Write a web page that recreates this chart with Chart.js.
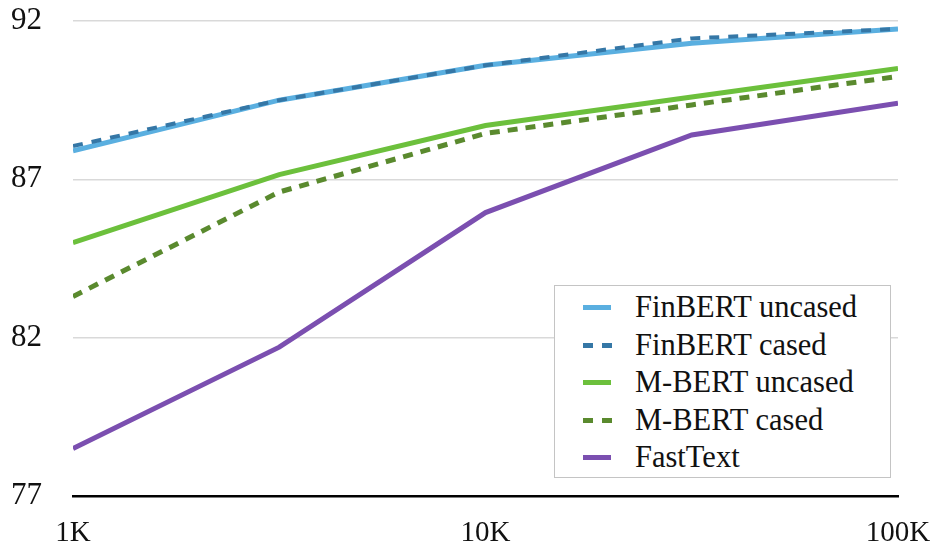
<!DOCTYPE html>
<html>
<head>
<meta charset="utf-8">
<script src="https://cdn.jsdelivr.net/npm/chart.js@4.4.1/dist/chart.umd.min.js"></script>
<style>
  html, body { margin: 0; padding: 0; background: #fff; }
  #wrap { position: relative; width: 937px; height: 544px; }
  #legend {
    position: absolute; left: 554px; top: 285px; width: 337px; height: 193px;
    border: 1.5px solid #c4c4c4; background: #fff; box-sizing: border-box;
    font-family: "Liberation Serif", "Times New Roman", serif; font-size: 30.5px; color: #111;
  }
  .row { position: absolute; left: 0; height: 37px; line-height: 37px; white-space: nowrap; }
  .row span.t { position: absolute; left: 80px; top: 0; }
  .sw { position: absolute; height: 5px; }
</style>
</head>
<body>
<div id="wrap">
  <canvas id="c" width="937" height="544"></canvas>
  <div id="legend"></div>
</div>
<script>
// ---- data ----
const trainSizes = [1000, 3162, 10000, 31623, 100000];
const xTickValues = [1000, 10000, 100000];
const xTickLabels = ['1K', '10K', '100K'];
const yTickValues = [77, 82, 87, 92];
const seriesNames = ['FinBERT uncased', 'FinBERT cased', 'M-BERT uncased', 'M-BERT cased', 'FastText'];
const finbertUncased = [87.9, 89.5, 90.6, 91.3, 91.75];
const finbertCased   = [88.05, 89.5, 90.6, 91.45, 91.75];
const mbertUncased   = [85.0, 87.15, 88.7, 89.6, 90.5];
const mbertCased     = [83.3, 86.6, 88.45, 89.35, 90.25];
const fastText       = [78.5, 81.7, 85.95, 88.4, 89.4];

const seriesValues = [finbertUncased, finbertCased, mbertUncased, mbertCased, fastText];
const colors = ['#5aafe0', '#3577a6', '#6cc03c', '#5a8a2e', '#7b4fb0'];
const dashes = [[], [10, 9], [], [10, 8], []];
const widths = [5, 4, 5, 5, 5];

const datasets = seriesNames.map((name, i) => ({
  label: name,
  data: trainSizes.map((x, j) => ({ x: x, y: seriesValues[i][j] })),
  borderColor: colors[i],
  backgroundColor: colors[i],
  borderWidth: widths[i],
  borderDash: dashes[i],
  borderCapStyle: 'butt',
  pointRadius: 0,
  pointHoverRadius: 0,
  tension: 0,
  fill: false,
  order: [1, 0, 3, 2, 4][i]
}));

const serif = '"Liberation Serif", "Times New Roman", serif';

new Chart(document.getElementById('c'), {
  type: 'line',
  data: { datasets },
  options: {
    responsive: false,
    animation: false,
    devicePixelRatio: 1,
    layout: { padding: { top: 21, right: 39, left: 0, bottom: 0 } },
    plugins: { legend: { display: false }, tooltip: { enabled: false } },
    scales: {
      x: {
        type: 'logarithmic',
        min: 1000, max: 100000,
        afterBuildTicks: s => { s.ticks = xTickValues.map(v => ({ value: v })); },
        afterFit: s => { s.height = 48; s.paddingLeft = 0; s.paddingRight = 0; },
        ticks: {
          color: '#111', font: { family: serif, size: 29 }, padding: 12, maxRotation: 0, autoSkip: false,
          callback: (v) => { const k = xTickValues.indexOf(v); return k >= 0 ? xTickLabels[k] : ''; }
        },
        grid: { display: false },
        border: { display: true, color: '#000', width: 2.5 }
      },
      y: {
        min: 77, max: 92,
        afterBuildTicks: s => { s.ticks = yTickValues.map(v => ({ value: v })); },
        afterFit: s => { s.width = 73; s.paddingTop = 0; s.paddingBottom = 0; },
        ticks: { color: '#111', font: { family: serif, size: 31 }, padding: 31 },
        grid: { color: '#d9d9d9', lineWidth: 1.5, drawTicks: false },
        border: { display: false }
      }
    }
  }
});

// HTML legend
const leg = document.getElementById('legend');
seriesNames.forEach((name, i) => {
  const row = document.createElement('div');
  row.className = 'row';
  row.style.top = (3 + i * 37.5) + 'px';
  row.style.width = '100%';
  const cy = 18;
  if (dashes[i].length) {
    [0, 19].forEach(off => {
      const d = document.createElement('div');
      d.className = 'sw';
      d.style.left = (28 + off) + 'px'; d.style.width = '10px';
      d.style.top = (cy - 2) + 'px'; d.style.background = colors[i];
      row.appendChild(d);
    });
  } else {
    const d = document.createElement('div');
    d.className = 'sw';
    d.style.left = '28px'; d.style.width = '28px';
    d.style.top = (cy - 2) + 'px'; d.style.background = colors[i];
    row.appendChild(d);
  }
  const t = document.createElement('span');
  t.className = 't';
  t.textContent = name;
  row.appendChild(t);
  leg.appendChild(row);
});
</script>
</body>
</html>
